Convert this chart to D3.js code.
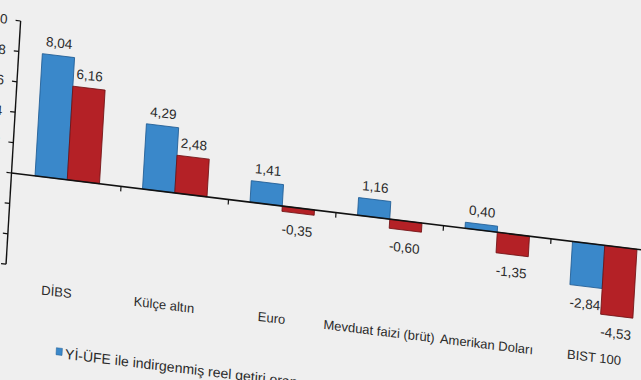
<!DOCTYPE html>
<html><head><meta charset="utf-8">
<script src="https://cdn.jsdelivr.net/npm/d3@7"></script>
<style>
body{margin:0;background:#efefef}
svg{display:block}
text{font-family:"Liberation Sans",Arial,sans-serif;fill:#2a2a2a}
</style>
</head><body><svg id="c" width="641" height="380"></svg>
<script>
const categories = ["DİBS","Külçe altın","Euro","Mevduat faizi (brüt)","Amerikan Doları","BIST 100"];
const seriesNames = ["Yİ-ÜFE ile indirgenmiş reel getiri oranı","TÜFE ile indirgenmiş reel getiri oranı"];
const yiUfe = [8.04, 4.29, 1.41, 1.16, 0.40, -2.84];
const tufe  = [6.16, 2.48, -0.35, -0.60, -1.35, -4.53];
const yTicks = [-6,-4,-2,0,2,4,6,8,10];
const colors = ["#3a88ca","#b42126"];
const strokes = ["#1d5a92","#6e0f12"];

const svg = d3.select("#c");
svg.append("rect").attr("width",641).attr("height",380).attr("fill","#efefef");

// photographed at an angle: sheared/rotated plot frame
const g = svg.append("g").attr("transform","matrix(1,0.122,-0.06,1,11.5,173)");

const y = d3.scaleLinear().domain([-6,10]).range([91.2,-152]);
const x0 = d3.scaleBand().domain(categories).range([2,647]);
const bw = x0.bandwidth();
const x1 = d3.scaleBand().domain(seriesNames).range([bw*0.2,bw*0.8]);
const fmt = v => d3.format(".2f")(v).replace(".",",").replace("\u2212","-");
const tfmt = v => String(v);

const data = categories.map((c,i)=>({cat:c, vals:[yiUfe[i],tufe[i]]}));

// bars
const grp = g.selectAll("g.cat").data(data).join("g").attr("class","cat")
  .attr("transform",d=>`translate(${x0(d.cat)},0)`);
grp.selectAll("rect").data(d=>d.vals.map((v,j)=>({v,j}))).join("rect")
  .attr("x",d=>x1(seriesNames[d.j]))
  .attr("width",x1.bandwidth())
  .attr("y",d=>Math.min(y(d.v),y(0)))
  .attr("height",d=>Math.abs(y(d.v)-y(0)))
  .attr("fill",d=>colors[d.j])
  .attr("stroke",d=>strokes[d.j]).attr("stroke-width",0.8);

grp.selectAll("text.val").data(d=>d.vals.map((v,j)=>({v,j}))).join("text")
  .attr("class","val")
  .attr("x",d=>x1(seriesNames[d.j])+x1.bandwidth()/2)
  .attr("y",d=>d.v>=0? y(d.v)-8 : y(d.v)+22)
  .attr("text-anchor","middle")
  .attr("font-size","13.5px")
  .text(d=>fmt(d.v));

// y axis
g.append("line").attr("x1",0).attr("x2",0).attr("y1",y(10)).attr("y2",y(-6))
  .attr("stroke","#111").attr("stroke-width",1.4);
g.selectAll("line.yt").data(yTicks).join("line").attr("class","yt")
  .attr("x1",-5).attr("x2",0).attr("y1",d=>y(d)).attr("y2",d=>y(d))
  .attr("stroke","#111").attr("stroke-width",1.2);
g.selectAll("text.yl").data(yTicks).join("text").attr("class","yl")
  .attr("x",-13).attr("y",d=>y(d)+4.5).attr("text-anchor","end")
  .attr("font-size","13.5px").text(tfmt);

// x axis at zero
g.append("line").attr("x1",0).attr("x2",660).attr("y1",y(0)).attr("y2",y(0))
  .attr("stroke","#111").attr("stroke-width",1.6);
g.selectAll("line.xt").data(categories.slice(1)).join("line").attr("class","xt")
  .attr("x1",d=>x0(d)).attr("x2",d=>x0(d)).attr("y1",y(0)).attr("y2",y(0)+5)
  .attr("stroke","#111").attr("stroke-width",1.2);

// category labels (low position)
g.selectAll("text.cl").data(categories).join("text").attr("class","cl")
  .attr("x",d=>x0(d)+bw/2-4).attr("y",117)
  .attr("text-anchor","middle").attr("font-size","13px")
  .text(d=>d);

// legend
const lg = g.append("g").attr("transform","translate(55,168)");
seriesNames.forEach((s,j)=>{
  const item = lg.append("g").attr("transform",`translate(${j*310},0)`);
  item.append("rect").attr("width",6).attr("height",7).attr("fill",colors[j]).attr("stroke",strokes[j]).attr("stroke-width",0.5);
  item.append("text").attr("x",9).attr("y",10).attr("font-size","14px").text(s);
});
</script>
</body></html>
